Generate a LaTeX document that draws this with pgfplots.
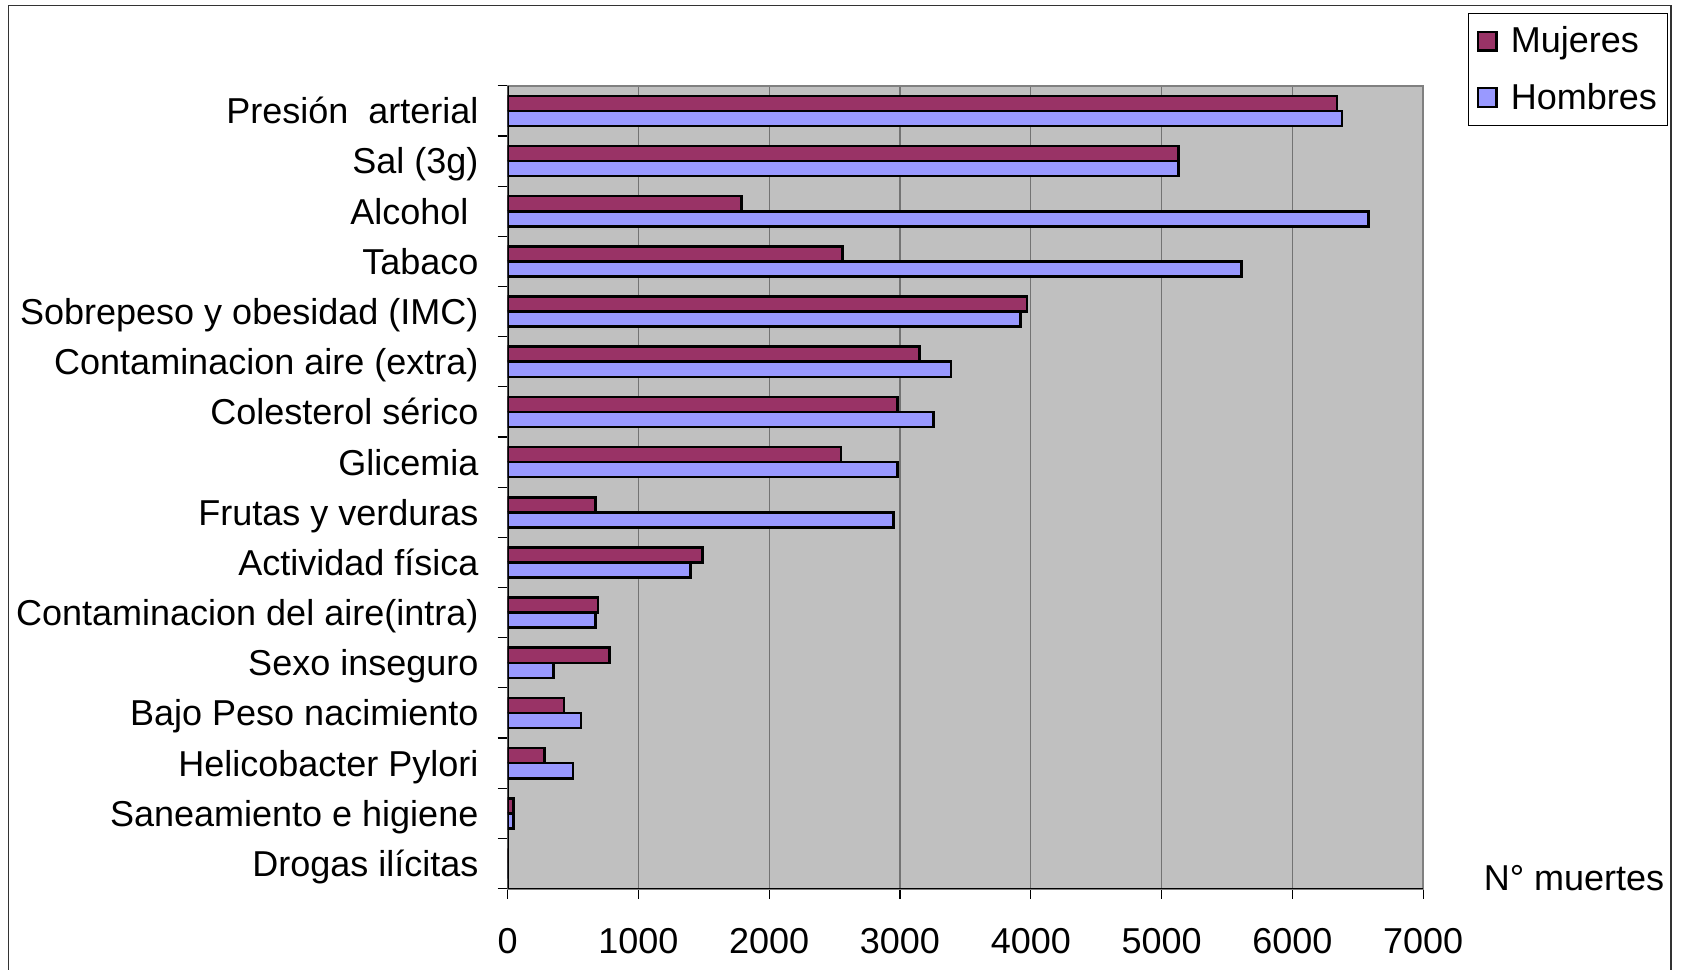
\documentclass[border=0pt]{standalone}
\usepackage{fontspec}
\setmainfont{Liberation Sans}
\usepackage{pgfplots}
\pgfplotsset{compat=1.18}

\definecolor{mujeres}{HTML}{993366}
\definecolor{hombres}{HTML}{9999FF}
\definecolor{plotbg}{HTML}{C0C0C0}
\definecolor{gridgray}{HTML}{808080}

\newcommand{\chartfont}{\fontsize{18}{21.6}\selectfont}

\begin{document}
\begin{tikzpicture}
\useasboundingbox (0,0) rectangle (841.5pt,485pt);
% outer chart frame (its lower edge runs off the page)
\draw[black!80, line width=0.75pt] (4.3pt,-20pt) rectangle (835.6pt,482.3pt);

\begin{axis}[
  at={(253.8pt,40.7pt)}, anchor=south west,
  scale only axis, width=457.8pt, height=401.4pt,
  font=\chartfont,
  xmin=0, xmax=7000, ymin=-0.5, ymax=15.5,
  xtick={0,1000,...,7000},
  xticklabels={0,1000,2000,3000,4000,5000,6000,7000},
  xticklabel style={anchor=center, yshift=-21.5pt},
  ytick={-0.5,0.5,...,15.5}, yticklabels={},
  xtick pos=bottom, ytick pos=left,
  extra y ticks={0,1,...,15},
  extra y tick labels={Drogas ilícitas,Saneamiento e higiene,Helicobacter Pylori,Bajo Peso nacimiento,Sexo inseguro,Contaminacion del aire(intra),Actividad física,Frutas y verduras,Glicemia,Colesterol sérico,Contaminacion aire (extra),Sobrepeso y obesidad (IMC),Tabaco,Alcohol\kern5pt,Sal (3g),Presión\ \ arterial},
  extra y tick style={major tick length=0pt,
    yticklabel style={anchor=east, xshift=-14.4pt, text height=12.9pt, text depth=0pt, inner sep=0pt}},
  tick align=outside, major tick length=5pt,
  tick style={black, line width=0.6pt},
  xmajorgrids, major grid style={black!55, line width=0.6pt},
  axis background/.style={fill=plotbg},
  axis line style={gridgray, line width=1pt},
  legend style={at={(1.049,1.0907)}, anchor=north west, draw=black, line width=0.6pt,
    fill=white, font=\chartfont, inner xsep=4pt, inner ysep=5pt, row sep=10.7pt,
    cells={anchor=west}, nodes={inner sep=1.5pt},
    /tikz/every odd column/.append style={column sep=5pt}},
  legend image code/.code={\draw[#1, draw=black, line width=1.2pt] (0pt,-4.7pt) rectangle (9.4pt,4.7pt);},
]
\addplot[xbar, bar width=0.3, bar shift=0.15, fill=mujeres, draw=black, line width=1.3pt]
  coordinates {
    (6340,15) (5130,14) (1790,13) (2560,12) (3970,11) (3150,10) (2980,9) (2550,8)
    (670,7) (1490,6) (690,5) (780,4) (430,3) (280,2) (45,1) (0,0)
  };
\addlegendentry{Mujeres}
\addplot[xbar, bar width=0.3, bar shift=-0.15, fill=hombres, draw=black, line width=1.3pt]
  coordinates {
    (6380,15) (5130,14) (6580,13) (5610,12) (3920,11) (3390,10) (3255,9) (2980,8)
    (2950,7) (1400,6) (670,5) (350,4) (560,3) (500,2) (45,1) (0,0)
  };
\addlegendentry{Hombres}
\draw[black, line width=1pt] (rel axis cs:0,1) -- (rel axis cs:0,0) -- (rel axis cs:1,0);
\end{axis}

\node[font=\chartfont] at (787pt,46pt) {N° muertes};
\end{tikzpicture}
\end{document}
